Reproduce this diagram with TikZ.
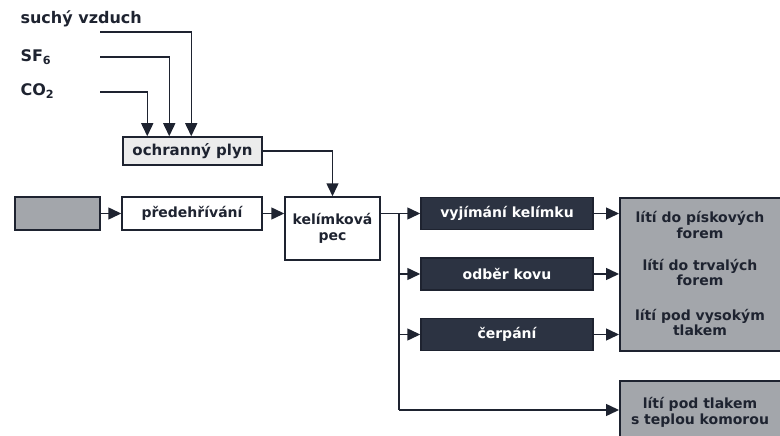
\documentclass[tikz,border=0pt]{standalone}
\usepackage{fontspec}
\setmainfont{DejaVu Sans}
\usetikzlibrary{arrows.meta,calc}
\definecolor{ink}{HTML}{1E2330}
\definecolor{darkbox}{HTML}{2C3342}
\definecolor{midgray}{HTML}{A3A6AB}
\definecolor{lightgray}{HTML}{ECECEC}
\tikzset{
  lbl/.style={font=\bfseries\fontsize{14}{15.5}\selectfont, text=ink, align=center},
  bigl/.style={font=\bfseries\fontsize{16}{18}\selectfont, text=ink, anchor=west},
  box/.style={draw=ink, line width=1.5pt, inner sep=0pt},
  whitebox/.style={box, fill=white, lbl},
  darkb/.style={box, fill=darkbox, lbl, text=white, minimum width=172pt, minimum height=32pt},
  graybox/.style={box, fill=midgray},
  conn/.style={draw=ink, line width=1.5pt, -{Triangle[length=13pt,width=12pt]}},
  plain/.style={draw=ink, line width=1.5pt},
}
\begin{document}
\begin{tikzpicture}[x=1pt,y=-1pt]
\useasboundingbox (0,0) rectangle (780,436);
\clip (0,0) rectangle (780,436);
% gas labels
\node[bigl] (air) at (17,19) {suchý vzduch};
\node[bigl] (sf) at (17,57) {SF\textsubscript{6}};
\node[bigl] (co) at (17,91) {CO\textsubscript{2}};
\coordinate (airs) at (100,32);
\coordinate (sfs) at (100,57);
\coordinate (cos) at (100,92);
% gas box
\node[box, fill=lightgray, lbl, font=\bfseries\fontsize{15}{17}\selectfont, minimum width=139pt, minimum height=28pt] (gas) at (192.5,151) {ochranný plyn};
\draw[conn] (cos) -| ($(gas.north west)+(25,0)$);
\draw[conn] (sfs) -| ($(gas.north west)+(47,0)$);
\draw[conn] (airs) -| ($(gas.north west)+(69,0)$);
% main line
\node[graybox, minimum width=85pt, minimum height=33pt] (src) at (57.5,213.5) {};
\node[whitebox, minimum width=140pt, minimum height=33pt] (pre) at (192,213.5) {předehřívání};
\node[whitebox, minimum width=95pt, minimum height=63pt] (pec) at (332.5,228.5) {kelímková\\pec};
\draw[conn] (src) -- (pre);
\draw[conn] (pre.east) -- (pre.east -| pec.west);
\draw[conn] (gas.east) -| (pec.north);
% dark boxes
\node[darkb] (vyj) at (507,213.5) {vyjímání kelímku};
\node[darkb] (odb) at (507,274) {odběr kovu};
\node[darkb] (cerp) at (507,334.5) {čerpání};
% gray result boxes
\node[graybox, minimum width=163pt, minimum height=153pt, anchor=north west] (big) at (619,197) {};
\node[graybox, minimum width=163pt, minimum height=60pt, anchor=north west] (bot) at (619,380) {};
\node[lbl] (t1) at (700,225) {lítí do pískových\\forem};
\node[lbl] (t2) at (700,272.5) {lítí do trvalých\\forem};
\node[lbl] (t3) at (700,322.5) {lítí pod vysokým\\tlakem};
\node[lbl] (t4) at (700,412.5) {lítí pod tlakem\\s teplou komorou};
% branching
\coordinate (j1) at (399,213.5);
\coordinate (j4) at (399,410);
\draw[plain] (pec.east |- j1) -- (j1);
\draw[conn] (j1) -- (vyj.west);
\draw[plain] (j1) -- (j4);
\draw[conn] (j1 |- odb) -- (odb.west);
\draw[conn] (j1 |- cerp) -- (cerp.west);
\draw[conn] (j4) -- (j4 -| bot.west);
\draw[conn] (vyj.east) -- (vyj.east -| big.west);
\draw[conn] (odb.east) -- (odb.east -| big.west);
\draw[conn] (cerp.east) -- (cerp.east -| big.west);
\end{tikzpicture}
\end{document}
